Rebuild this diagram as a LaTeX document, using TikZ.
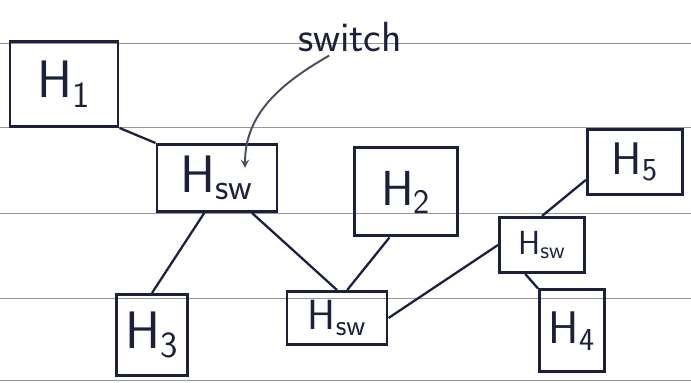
\documentclass[tikz,border=0pt]{standalone}
\usepackage{tikz}
\usetikzlibrary{arrows, positioning}
\definecolor{ink}{RGB}{28,32,58}
\definecolor{ruling}{RGB}{150,150,150}
\newcommand{\hsub}[1]{H\textsubscript{#1}}

\begin{document}
\begin{tikzpicture}[
    every node/.style={font=\sffamily, text=ink},
    hostbox/.style={rectangle, draw=ink, line width=1.7pt, inner sep=0pt},
    switchbox/.style={rectangle, draw=ink, line width=1.7pt, inner sep=0pt},
    link/.style={draw=ink, line width=1.3pt},
    arrow/.style={->, >=stealth, draw=ink!80, line width=1.1pt}
]
\useasboundingbox (0,0) rectangle (13.82,7.66);

% paper ruling
\foreach \y in {6.80, 5.12, 3.40, 1.70, 0.06}
    \draw [ruling, line width=0.4pt] (0,\y) -- (13.82,\y);

% Hosts
\node (h1) [hostbox, minimum width=2.16cm, minimum height=1.7cm] at (1.28,5.98) {\fontsize{30}{30}\selectfont \hsub{1}};
\node (h2) [hostbox, minimum width=2.06cm, minimum height=1.76cm] at (8.12,3.82) {\fontsize{28}{28}\selectfont \hsub{2}};
\node (h3) [hostbox, minimum width=1.42cm, minimum height=1.62cm] at (3.04,0.96) {\fontsize{30}{30}\selectfont \hsub{3}};
\node (h4) [hostbox, minimum width=1.30cm, minimum height=1.64cm] at (11.44,1.04) {\fontsize{26}{26}\selectfont \hsub{4}};
\node (h5) [hostbox, minimum width=1.90cm, minimum height=1.30cm] at (12.70,4.42) {\fontsize{26}{26}\selectfont \hsub{5}};

% Switches
\node (sw1) [switchbox, minimum width=2.40cm, minimum height=1.34cm] at (4.34,4.10) {\fontsize{30}{30}\selectfont \hsub{sw}};
\node (sw2) [switchbox, minimum width=2.00cm, minimum height=1.06cm] at (6.74,1.30) {\fontsize{24}{24}\selectfont \hsub{sw}};
\node (sw3) [switchbox, minimum width=1.70cm, minimum height=1.10cm] at (10.84,2.76) {\fontsize{19}{19}\selectfont \hsub{sw}};

% label
\node (swlabel) at (7.0,6.92) {\fontsize{24}{24}\selectfont switch};

% Links
\draw [link] (h1.south east) -- (sw1.north west);
\draw [link] (sw1.250) -- (h3.north);
\draw [link] (sw1.315) -- (sw2.north);
\draw [link] (h2.250) -- (sw2.70);
\draw [link] (sw2.east) -- (sw3.west);
\draw [link] (sw3.north) -- (h5.200);
\draw [link] (sw3.240) -- (h4.north west);

% Arrows
\draw [arrow] ([xshift=0.75cm, yshift=0.05cm]swlabel.south west) to[out=210, in=90] ([xshift=0.56cm, yshift=-0.5cm]sw1.north);

\end{tikzpicture}
\end{document}
